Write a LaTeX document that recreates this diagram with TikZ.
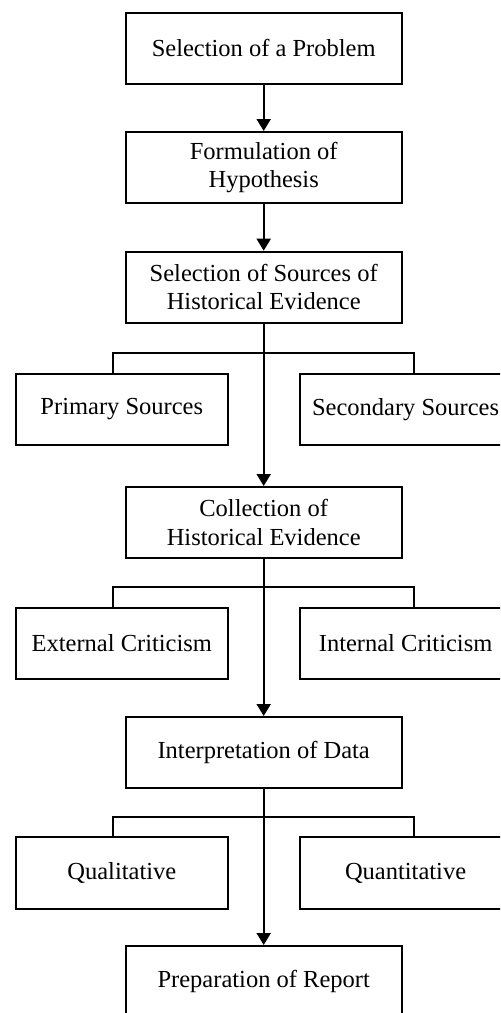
\documentclass[tikz,border=0pt]{standalone}
\usepackage{fontspec}
\setmainfont{Liberation Serif}
\usetikzlibrary{arrows.meta}
\begin{document}
\begin{tikzpicture}[x=0.5pt, y=-0.5pt, line width=1pt,
    box/.style={draw, line width=1pt, minimum width=138pt, minimum height=35.5pt,
        align=center, inner sep=0pt, font=\fontsize{12.25}{14.2}\selectfont},
    sidebox/.style={box, minimum width=105.8pt, minimum height=35.7pt},
    arr/.style={-{Triangle[width=7pt,length=6pt]}}]
    \clip (0,0) rectangle (500,1013);

    % Main steps
    \node[box] (problem) at (263.7,48) {Selection of a Problem};
    \node[box] (hypothesis) at (263.7,167.5) {Formulation of\\Hypothesis};
    \node[box] (sources) at (263.7,287.2) {Selection of Sources of\\Historical Evidence};
    \node[box] (collection) at (263.7,522.5) {Collection of\\Historical Evidence};
    \node[box] (interpret) at (263.7,752.5) {Interpretation of Data};
    \node[box] (report) at (263.7,981.5) {Preparation of Report};

    % Side boxes
    \node[sidebox] (primary) at (121.8,409.4) {Primary Sources};
    \node[sidebox] (secondary) at (405.6,409.4) {Secondary Sources};
    \node[sidebox] (external) at (121.8,643.5) {External Criticism};
    \node[sidebox] (internal) at (405.6,643.5) {Internal Criticism};
    \node[sidebox] (quali) at (121.8,873) {Qualitative};
    \node[sidebox] (quanti) at (405.6,873) {Quantitative};

    % Arrows
    \draw[arr] (problem) -- (hypothesis);
    \draw[arr] (hypothesis) -- (sources);
    \draw[arr] (sources) -- (collection);
    \draw[arr] (collection) -- (interpret);
    \draw[arr] (interpret) -- (report);

    % Forks
    \coordinate (fork1) at (263.7,352.7);
    \coordinate (fork2) at (263.7,586.7);
    \coordinate (fork3) at (263.7,816.7);
    \draw ([xshift=-4.3pt]primary.north) |- (fork1) -| ([xshift=4.3pt]secondary.north);
    \draw ([xshift=-4.3pt]external.north) |- (fork2) -| ([xshift=4.3pt]internal.north);
    \draw ([xshift=-4.3pt]quali.north) |- (fork3) -| ([xshift=4.3pt]quanti.north);
\end{tikzpicture}
\end{document}
